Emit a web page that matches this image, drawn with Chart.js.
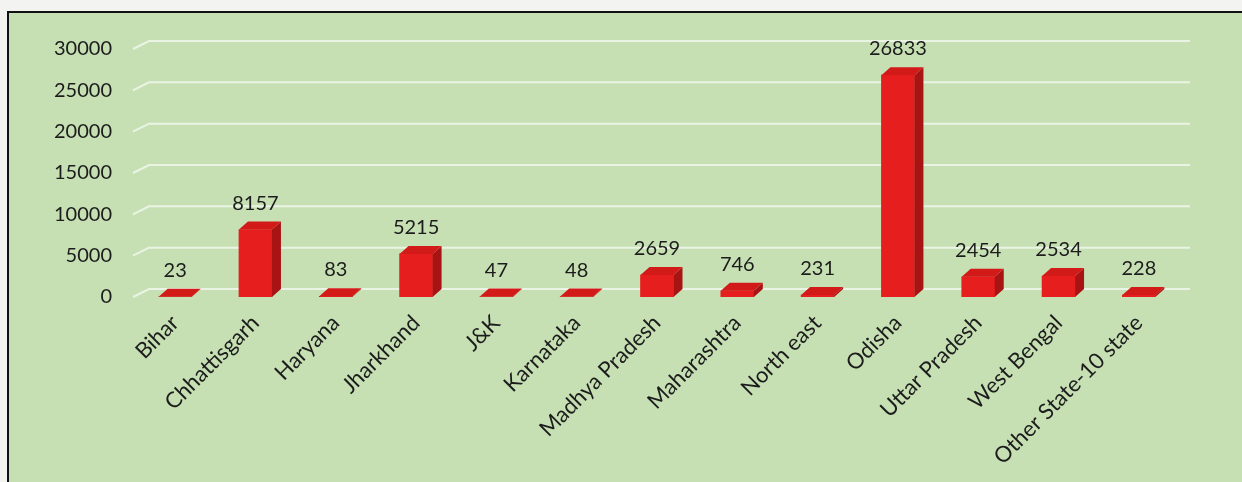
<!DOCTYPE html>
<html>
<head>
<meta charset="utf-8">
<title>Cases by State</title>
<script src="https://cdn.jsdelivr.net/npm/chart.js@4"></script>
<style>
  html, body { margin: 0; padding: 0; }
  body { width: 1242px; height: 482px; background: #f3f3f1; position: relative; overflow: hidden; }
  .panel { position: absolute; left: 7px; top: 11px; width: 1300px; height: 520px; border: 2px solid #111; background: #c6e0b4; }
  .chart-wrap { position: absolute; left: 0; top: 0; width: 1242px; height: 482px; }
</style>
</head>
<body>
<div class="panel"></div>
<div class="chart-wrap"><canvas id="chart"></canvas></div>
<script>
// Data
const states = ['Bihar', 'Chhattisgarh', 'Haryana', 'Jharkhand', 'J&K', 'Karnataka', 'Madhya Pradesh',
  'Maharashtra', 'North east', 'Odisha', 'Uttar Pradesh', 'West Bengal', 'Other State-10 state'];
const counts = [23, 8157, 83, 5215, 47, 48, 2659, 746, 231, 26833, 2454, 2534, 228];
const yMax = 30000;
const yStep = 5000;

// 3D look
const BAR_DX = 9, BAR_DY = 8;     // bar depth
const WALL_DX = 14, WALL_DY = 8;  // back wall offset
const FONT = { family: 'Lato', size: 20 };
const TEXT = '#1c1c1c';

// Gridlines on the back wall, with the short slant from the floor edge
const backWall = {
  id: 'backWall',
  beforeDatasetsDraw(chart) {
    const { ctx, chartArea, scales } = chart;
    ctx.save();
    ctx.strokeStyle = '#eaf4e4';
    ctx.lineWidth = 2;
    scales.y.ticks.forEach(t => {
      const py = scales.y.getPixelForValue(t.value);
      ctx.beginPath();
      ctx.moveTo(chartArea.left - 2, py);
      ctx.lineTo(chartArea.left + WALL_DX, py - WALL_DY);
      ctx.lineTo(chartArea.right + WALL_DX - 3, py - WALL_DY);
      ctx.stroke();
    });
    ctx.restore();
  }
};

// Top and side faces of each column, plus the value above it
const boxes = {
  id: 'boxes',
  afterDatasetsDraw(chart) {
    const ctx = chart.ctx;
    const meta = chart.getDatasetMeta(0);
    ctx.save();
    meta.data.forEach((bar, i) => {
      const { x, y, base, width } = bar.getProps(['x', 'y', 'base', 'width'], true);
      const l = x - width / 2, r = x + width / 2;

      // side
      ctx.fillStyle = '#a81414';
      ctx.beginPath();
      ctx.moveTo(r, y);
      ctx.lineTo(r + BAR_DX, y - BAR_DY);
      ctx.lineTo(r + BAR_DX, base - BAR_DY);
      ctx.lineTo(r, base);
      ctx.closePath();
      ctx.fill();

      // top
      ctx.fillStyle = '#d21a18';
      ctx.beginPath();
      ctx.moveTo(l, y);
      ctx.lineTo(r, y);
      ctx.lineTo(r + BAR_DX, y - BAR_DY);
      ctx.lineTo(l + BAR_DX, y - BAR_DY);
      ctx.closePath();
      ctx.fill();

      // value label
      ctx.fillStyle = TEXT;
      ctx.font = FONT.size + 'px ' + FONT.family;
      ctx.textAlign = 'center';
      ctx.textBaseline = 'alphabetic';
      ctx.fillText(String(counts[i]), x, y - 20);
    });
    ctx.restore();
  }
};

new Chart(document.getElementById('chart'), {
  type: 'bar',
  data: {
    labels: states,
    datasets: [{
      data: counts,
      backgroundColor: '#e61e1e',
      borderWidth: 0,
      barThickness: 33
    }]
  },
  options: {
    responsive: true,
    maintainAspectRatio: false,
    animation: false,
    devicePixelRatio: 1,
    layout: { padding: { top: 49, right: 63, bottom: 0, left: 0 } },
    plugins: {
      legend: { display: false },
      tooltip: { enabled: false }
    },
    scales: {
      x: {
        grid: { display: false, drawTicks: false },
        border: { display: false },
        ticks: {
          color: TEXT,
          font: { family: 'Lato', size: 22 },
          autoSkip: false,
          minRotation: 45,
          maxRotation: 45,
          padding: 13
        },
        afterFit(scale) { scale.height = 185; }
      },
      y: {
        min: 0,
        max: yMax,
        grid: { display: false, drawTicks: false },
        border: { display: false },
        ticks: {
          stepSize: yStep,
          color: TEXT,
          font: FONT,
          padding: 23,
          callback: v => String(v)
        },
        afterFit(scale) { scale.width = 135; }
      }
    }
  },
  plugins: [backWall, boxes]
});
</script>
</body>
</html>
